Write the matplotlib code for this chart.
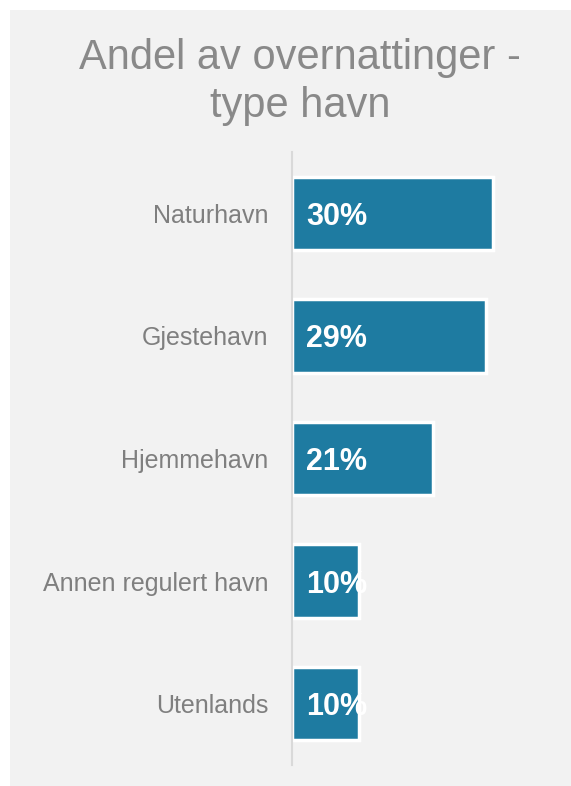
import matplotlib
matplotlib.use("Agg")
import matplotlib.pyplot as plt
from matplotlib.patches import Rectangle

plt.rcParams["font.family"] = ["Liberation Sans", "DejaVu Sans"]

categories = ["Naturhavn", "Gjestehavn", "Hjemmehavn", "Annen regulert havn", "Utenlands"]
shares = [30, 29, 21, 10, 10]
labels = ["30%", "29%", "21%", "10%", "10%"]

W, H = 571, 786
fig = plt.figure(figsize=(W / 100, H / 100), dpi=100)
fig.patch.set_facecolor("white")

# gray panel behind the chart
fig.patches.append(Rectangle((10 / W, 0), 1 - 10 / W, 1 - 10 / H,
                             transform=fig.transFigure, facecolor="#f2f2f2",
                             edgecolor="none", zorder=-5))

fig.text(300 / W, 1 - 58 / H, "Andel av overnattinger -", ha="center", va="center",
         fontsize=30, color="#898989")
fig.text(300 / W, 1 - 106 / H, "type havn", ha="center", va="center",
         fontsize=30, color="#898989")

left, right, top, bottom = 292, 560, 152, 765
ax = fig.add_axes([left / W, 1 - bottom / H, (right - left) / W, (bottom - top) / H])
ax.set_facecolor("none")
ax.set_zorder(2)

y = list(range(len(categories)))
ax.barh(y, shares, height=0.6, color="#1e7ba1", edgecolor="white", linewidth=2.5)
for yi, lab in zip(y, labels):
    ax.text(2.1, yi, lab, ha="left", va="center_baseline", color="white",
            fontsize=22, fontweight="bold")

ax.set_xlim(0, 40)
ax.set_ylim(len(categories) - 0.5, -0.5)
ax.set_yticks(y)
ax.set_yticklabels(categories, fontsize=18, color="#7f7f7f")
ax.tick_params(axis="y", length=0, pad=17)
ax.set_xticks([])
for side in ["top", "right", "bottom"]:
    ax.spines[side].set_visible(False)
ax.spines["left"].set_color("#d9d9d9")
ax.spines["left"].set_linewidth(1.5)

fig.savefig("out.png", dpi=100)
